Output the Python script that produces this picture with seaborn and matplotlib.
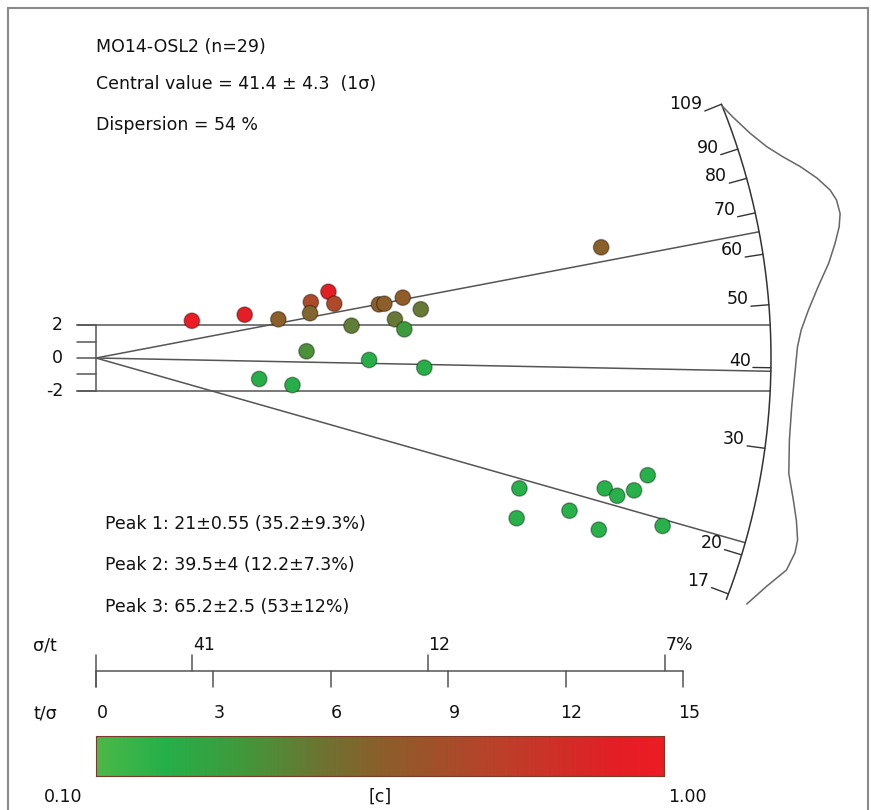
import numpy as np
import matplotlib
matplotlib.use("Agg")
import matplotlib.pyplot as plt
from matplotlib.colors import LinearSegmentedColormap
from matplotlib.lines import Line2D
import seaborn as sns

# values
sample_name = "MO14-OSL2"
central_value = 41.4
central_err = 4.3
dispersion = 54

# x = t/sigma (precision), y = standardised estimate, c = colour value
precision = [2.45, 3.80, 4.66, 5.49, 5.47, 5.38, 4.17, 5.02, 5.94, 6.09,
             6.53, 7.23, 7.37, 7.84, 8.30, 7.64, 7.88, 6.98, 8.39, 12.91,
             10.82, 10.75, 12.10, 12.85, 13.00, 13.32, 13.75, 14.10, 14.48]
std_estimate = [2.27, 2.64, 2.36, 3.41, 2.73, 0.41, -1.28, -1.65, 4.04, 3.31,
                1.97, 3.27, 3.31, 3.68, 2.97, 2.36, 1.75, -0.12, -0.59, 6.75,
                -7.95, -9.77, -9.31, -10.47, -7.95, -8.40, -8.07, -7.15, -10.24]
c_value = [1.00, 0.93, 0.56, 0.68, 0.52, 0.36, 0.22, 0.22, 0.92, 0.68,
           0.42, 0.56, 0.56, 0.57, 0.44, 0.44, 0.32, 0.22, 0.22, 0.55,
           0.20, 0.20, 0.20, 0.20, 0.20, 0.20, 0.20, 0.20, 0.20]

peak_age = [21, 39.5, 65.2]
peak_label = ["Peak 1: 21±0.55 (35.2±9.3%)",
              "Peak 2: 39.5±4 (12.2±7.3%)",
              "Peak 3: 65.2±2.5 (53±12%)"]

arc_ticks = [17, 20, 30, 40, 50, 60, 70, 80, 90, 109]
arc_range = [16.6, 109]

kde_age = [108.1, 102.2, 94.0, 87.8, 83.3, 79.2, 75.1, 71.5, 68.9, 65.8,
           63.1, 60.0, 56.4, 52.4, 48.6, 45.5, 43.0, 39.3, 35.0, 31.2,
           27.8, 25.5, 23.8, 22.3, 21.3, 19.9, 18.35, 16.8]
kde_density = [0.0, 0.07, 0.20, 0.34, 0.49, 0.66, 0.82, 0.94, 0.99, 1.0,
               0.96, 0.88, 0.77, 0.61, 0.47, 0.37, 0.32, 0.29, 0.27, 0.28,
               0.33, 0.44, 0.53, 0.60, 0.61, 0.57, 0.40, 0.25]

ts_ticks = [0, 3, 6, 9, 12, 15]
rel_err_ticks = [40.8, 11.8, 6.88]
rel_err_labels = ["41", "12", "7%"]
y_ticks = [-2, -1, 0, 1, 2]

cbar_range = [0.10, 1.00]
cbar_colors = ["#4db848", "#25b04a", "#3f9a3c", "#6e7332", "#8a5f2a", "#b9422a", "#e41e26", "#ed1c24"]
cbar_stops = [0.0, 0.12, 0.25, 0.4, 0.5, 0.7, 0.92, 1.0]

# layout (pixels)
W, H = 871, 810
X0, Y0 = 96, 358          # origin of the radial plot
SX, SY = 39.13, 16.4      # pixels per unit of t/sigma and of the standardised estimate
R_ARC = 675
KDE_SCALE = 83
LINE = "#555555"
FS = 12.5


def dx(p):
    return (p - X0) / SX


def dy(p):
    return (Y0 - p) / SY


def radial(age, r):
    s = np.log(np.asarray(age, dtype=float) / central_value)
    th = np.arctan(s * SY / SX)
    return r * np.cos(th) / SX, r * np.sin(th) / SY


def fig_text(x, y, s, **kw):
    fig.text(x / W, 1 - y / H, s, fontsize=FS, color="#111111", va="center", **kw)


sns.set_style("white")
plt.rcParams["font.family"] = ["DejaVu Sans"]

cmap = LinearSegmentedColormap.from_list("c", list(zip(cbar_stops, cbar_colors)))

fig = plt.figure(figsize=(W / 100, H / 100), dpi=100)
ax = fig.add_axes([0, 0, 1, 1])
ax.set_xlim(dx(0), dx(W))
ax.set_ylim(dy(H), dy(0))
ax.set_axis_off()

# +-2 band and y axis
for yv in (-2, 2):
    x_end = np.sqrt(R_ARC ** 2 - (yv * SY) ** 2) / SX
    ax.plot([dx(77), x_end], [yv, yv], color=LINE, lw=1.1)
ax.plot([0, 0], [-2, 2], color=LINE, lw=1.1)
for yv in y_ticks:
    ax.plot([dx(77), 0], [yv, yv], color=LINE, lw=1.1)
for yv in (-2, 0, 2):
    ax.text(dx(63), yv, str(yv), ha="right", va="center", fontsize=FS, color="#111111")

# peak lines
for age in peak_age:
    xe, ye = radial(age, R_ARC)
    ax.plot([0, xe], [0, ye], color=LINE, lw=1.1)

# arc with ticks
arc_ages = np.geomspace(arc_range[0], arc_range[1], 300)
ax.plot(*radial(arc_ages, R_ARC), color="#333333", lw=1.1)
for age in arc_ticks:
    xo, yo = radial(age, R_ARC)
    xi, yi = radial(age, R_ARC - 18)
    ax.plot([xi, xo], [yi, yo], color="#333333", lw=1.0)
    ax.annotate(str(age), (xi, yi), xytext=(-1.5, 5), textcoords="offset points",
                ha="right", va="center", fontsize=FS, color="#111111")

# kernel density curve outside the arc
kx, ky = radial(kde_age, R_ARC + np.array(kde_density) * KDE_SCALE)
ax.plot(kx, ky, color="#666666", lw=1.1)

# data points
sns.scatterplot(x=precision, y=std_estimate, hue=c_value, palette=cmap,
                hue_norm=(cbar_range[0], cbar_range[1]), s=125,
                edgecolor=(0, 0, 0, 0.35), linewidth=1.0, legend=False,
                ax=ax, zorder=3)

# precision scale at the bottom
y_line, y_up, y_dn = dy(671), dy(655), dy(687)
ax.plot([0, 15], [y_line, y_line], color=LINE, lw=1.1)
ax.plot([0, 0], [y_up, y_dn], color=LINE, lw=1.1)
for t in ts_ticks:
    ax.plot([t, t], [y_line, y_dn], color=LINE, lw=1.1)
    ax.text(t + 6 / SX, dy(713), str(t), ha="center", va="center", fontsize=FS, color="#111111")
for v, lab in zip(rel_err_ticks, rel_err_labels):
    t = 100 / v
    ax.plot([t, t], [y_line, y_up], color=LINE, lw=1.1)
    ax.text(t + 1 / SX, dy(645), lab, ha="left", va="center", fontsize=FS, color="#111111")

# colour bar
cax = fig.add_axes([X0 / W, 1 - 776 / H, 568 / W, 40 / H])
cax.imshow(np.linspace(0, 1, 256)[None, :], cmap=cmap, aspect="auto")
cax.set_xticks([])
cax.set_yticks([])
for sp in cax.spines.values():
    sp.set_color("#7a3a2a")
    sp.set_linewidth(0.8)

# texts
fig_text(96, 47, f"{sample_name} (n={len(precision)})")
fig_text(96, 84, f"Central value = {central_value} ± {central_err}  (1σ)")
fig_text(96, 125, f"Dispersion = {dispersion} %")
for i, lab in enumerate(peak_label):
    fig_text(105, 524 + 41.5 * i, lab)
fig_text(33, 645, "σ/t")
fig_text(33, 713, "t/σ")
fig_text(44, 797, f"{cbar_range[0]:.2f}")
fig_text(380, 797, "[c]", ha="center")
fig_text(668, 797, f"{cbar_range[1]:.2f}")

# outer frame
for xs, ys in [((8, 8), (8, H)), ((8, 868), (8, 8)), ((868, 868), (8, H))]:
    fig.add_artist(Line2D([x / W for x in xs], [1 - y / H for y in ys],
                          color="#8a8a8a", lw=1.5, transform=fig.transFigure))

fig.savefig("out.png", dpi=100)
